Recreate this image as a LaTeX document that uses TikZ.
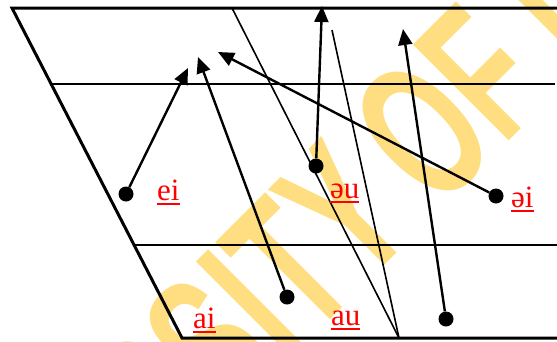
\documentclass[tikz,border=0pt]{standalone}
\usepackage{fontspec}
\setmainfont{Liberation Serif}
\newfontfamily\wmfont[FakeStretch=0.61]{Liberation Sans}
\usetikzlibrary{arrows.meta,positioning}

\definecolor{wmyellow}{RGB}{254,222,128}
\definecolor{labred}{RGB}{255,0,0}

% underlined vowel label
\newcommand\vowlab[1]{\setbox0\hbox{#1}\rlap{\rule[-5pt]{\wd0}{2pt}}\box0}

\tikzset{
  frame/.style={line width=3pt, line join=miter},
  guide/.style={line width=1.6pt},
  arr/.style={line width=2.4pt, -{Triangle[length=16pt,width=14pt]}},
  dot/.style={circle, fill=black, inner sep=0pt, minimum size=15pt},
  lab/.style={text=labred, anchor=base west, inner sep=0pt,
    font=\fontsize{31}{31}\selectfont},
  watermark/.style={text=wmyellow, inner sep=0pt, rotate=45,
    font=\wmfont\bfseries\fontsize{197}{197}\selectfont}
}

\begin{document}
\begin{tikzpicture}[x=1pt, y=-1pt]
  \useasboundingbox (0,0) rectangle (557,341);
  \clip (0,0) rectangle (557,341);

  % Watermark
  \node[watermark, anchor=base east] (wm-a) at (419,231) {UNIVERSITY};
  \node[watermark, anchor=base west] (wm-b) at (437,213) {OF LONDON};

  % Vowel chart
  \draw[frame] (557,8) -- (12,8) -- (182,338) -- (557,338);
  \draw[guide] (51,84) -- (555,84);
  \draw[guide] (134,245) -- (557,245);
  \draw[guide] (232,8) -- (399,338);
  \draw[guide] (332,30) -- (399,338);

  % Diphthongs
  \foreach \name/\dx/\dy/\tx/\ty in {
      ei/126/194/188/68, ai/287/297/198/57, oi/496/196/218/52,
      ou/316/166/322/6, au/446/319/403/29} {
    \node[dot] (\name) at (\dx,\dy) {};
    \coordinate (\name-end) at (\tx,\ty);
    \draw[arr] (\name) -- (\name-end);
  }

  % Labels
  \node[lab] (lab-ei) at (157,200) {\vowlab{ei}};
  \node[lab] (lab-ai) at (193,328) {\vowlab{ai}};
  \node[lab] (lab-ou) at (330,198) {\vowlab{əu}};
  \node[lab] (lab-au) at (331,325) {\vowlab{au}};
  \node[lab] (lab-oi) at (511,207) {\vowlab{əi}};
\end{tikzpicture}
\end{document}
